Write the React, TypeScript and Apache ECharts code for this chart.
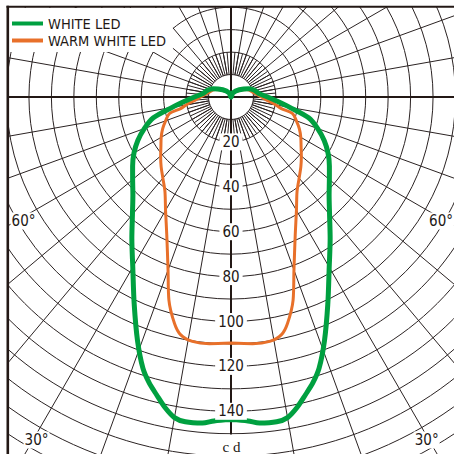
import React, { useEffect, useRef } from 'react';
import * as echarts from 'echarts';

// Luminous intensity (cd) vs angle from nadir (deg), right half; curves are symmetric.
const WHITE_ANGLES = [0, 3, 5, 8, 10, 12, 14, 16, 18, 21, 25, 30, 35, 40, 45, 50, 55, 60, 65, 70, 75, 80, 85, 90, 97, 107, 115, 131, 155, 180];
const WHITE_CD = [143.7, 144.5, 145.8, 146.1, 145, 141.4, 136.8, 132.4, 127, 116.2, 102, 87.5, 77, 68.3, 61.8, 57.2, 53.5, 49.9, 45.8, 41.1, 35.8, 26.6, 20.4, 16.3, 12.6, 10.7, 8.8, 4.9, 2, 0];

const WARM_ANGLES = [0, 5, 9, 12, 14, 17, 20, 25, 30, 35, 40, 45, 50, 55, 60, 65, 70, 75, 77, 81, 85, 90, 100, 115, 131, 155, 180];
const WARM_CD = [109.6, 110.3, 110.2, 108.2, 104, 94.6, 82, 67.7, 58.3, 51.3, 47.2, 44, 40.9, 38.1, 35.9, 33.6, 31, 28.3, 23, 19.5, 16, 13.5, 10.5, 7.8, 4.2, 1.8, 0];

const SERIES_NAMES = ['WHITE LED', 'WARM WHITE LED'];
const RADIUS_TICK_LABELS = [20, 40, 60, 80, 100, 120, 140];
const ANGLE_LABELS = ['60°', '60°', '30°', '30°'];
const UNIT_LABEL = 'c d';

const PX_PER_CD = 2.245;
const CENTER: [number, number] = [231, 97];
const R_MAX = 190;
const INK = '#231815';
const GRID = '#2b2323';
const NARROW = "'Liberation Sans Narrow', 'DejaVu Sans Condensed', 'Arial Narrow', 'Roboto', sans-serif";

function mirror(angles: number[], values: number[]) {
  const pts: number[][] = angles.map((a, i) => [values[i], a]);
  for (let i = angles.length - 2; i >= 0; i--) {
    pts.push([values[i], 360 - angles[i]]);
  }
  return pts;
}

export default function App() {
  const ref = useRef<HTMLDivElement>(null);
  useEffect(() => {
    if (!ref.current) return;
    const chart = echarts.init(ref.current, undefined, { renderer: 'svg' });
    const outerR = R_MAX * PX_PER_CD;
    const hubR = 10 * PX_PER_CD;
    const fineR = 20 * PX_PER_CD;
    const hiddenAxis = {
      axisLine: { show: false },
      axisTick: { show: false },
      axisLabel: { show: false },
      splitLine: { show: false },
    };
    const angleBase = { type: 'value', min: 0, max: 360, startAngle: 270, clockwise: false };
    const gridLine = { show: true, lineStyle: { color: GRID, width: 1 } };

    const option: any = {
      animation: false,
      backgroundColor: '#fff',
      legend: {
        data: SERIES_NAMES,
        orient: 'vertical',
        left: 9,
        top: 8,
        backgroundColor: '#fff',
        padding: [8, 7, 4, 3],
        itemGap: 2,
        itemWidth: 31,
        itemHeight: 4,
        icon: 'rect',
        selectedMode: false,
        textStyle: { fontFamily: NARROW, fontSize: 14.5, color: INK },
      },
      polar: [
        { center: CENTER, radius: [0, outerR] },
        { center: CENTER, radius: [hubR, outerR] },
        { center: CENTER, radius: [hubR, fineR] },
        { center: CENTER, radius: [fineR, outerR] },
      ],
      angleAxis: [
        { ...angleBase, polarIndex: 0, ...hiddenAxis },
        { ...angleBase, polarIndex: 1, interval: 10, ...hiddenAxis, splitLine: gridLine },
        { ...angleBase, polarIndex: 2, interval: 5, ...hiddenAxis, splitLine: gridLine },
        { ...angleBase, polarIndex: 3, ...hiddenAxis },
      ],
      radiusAxis: [
        { polarIndex: 0, type: 'value', min: 0, max: R_MAX, interval: 10, ...hiddenAxis, splitLine: gridLine },
        { polarIndex: 1, type: 'value', min: 0, max: 1, ...hiddenAxis },
        { polarIndex: 2, type: 'value', min: 0, max: 1, ...hiddenAxis },
        {
          polarIndex: 3, type: 'value', min: 20, max: R_MAX, interval: 20, z: 5,
          axisLine: { show: false }, axisTick: { show: false }, splitLine: { show: false },
          axisLabel: {
            show: true, margin: 0, align: 'center', verticalAlign: 'middle',
            backgroundColor: '#fff', padding: [1, 3],
            color: INK, fontFamily: NARROW, fontSize: 15,
            formatter: (v: number) => (RADIUS_TICK_LABELS.includes(v) ? String(v) : ''),
          },
        },
      ],
      series: [
        {
          name: SERIES_NAMES[0], type: 'line', coordinateSystem: 'polar', polarIndex: 0,
          data: mirror(WHITE_ANGLES, WHITE_CD), showSymbol: false, symbol: 'none', smooth: 0.3,
          lineStyle: { color: '#00a040', width: 5 }, itemStyle: { color: '#00a040' }, z: 3,
        },
        {
          name: SERIES_NAMES[1], type: 'line', coordinateSystem: 'polar', polarIndex: 0,
          data: mirror(WARM_ANGLES, WARM_CD), showSymbol: false, symbol: 'none', smooth: 0.3,
          lineStyle: { color: '#e8702a', width: 3 }, itemStyle: { color: '#e8702a' }, z: 2,
        },
      ],
      graphic: [
        { type: 'line', z: 1, shape: { x1: 0, y1: CENTER[1], x2: 454, y2: CENTER[1] }, style: { stroke: INK, lineWidth: 2 } },
        { type: 'line', z: 1, shape: { x1: CENTER[0], y1: 0, x2: CENTER[0], y2: 454 }, style: { stroke: INK, lineWidth: 2 } },
        ...[[23.5, 221], [441, 221], [36.5, 440], [426.7, 440]].map((p, i) => ({
          type: 'text', z: 6, x: p[0], y: p[1],
          style: {
            text: ANGLE_LABELS[i], fontFamily: NARROW, fontSize: 15, fill: INK,
            align: 'center', verticalAlign: 'middle', backgroundColor: '#fff', padding: [1, 1],
          },
        })),
        {
          type: 'text', z: 6, x: 231.5, y: 447,
          style: {
            text: UNIT_LABEL, fontFamily: "'Liberation Serif', 'DejaVu Serif', serif", fontSize: 15, fill: INK,
            align: 'center', verticalAlign: 'middle', backgroundColor: '#fff', padding: [5, 4],
          },
        },
        { type: 'rect', z: 10, shape: { x: 0, y: 0, width: 7, height: 454 }, style: { fill: '#fff' } },
        { type: 'rect', z: 10, shape: { x: 0, y: 0, width: 454, height: 6 }, style: { fill: '#fff' } },
        { type: 'line', z: 11, shape: { x1: 7.8, y1: 5.8, x2: 7.8, y2: 454 }, style: { stroke: INK, lineWidth: 2.6 } },
        { type: 'line', z: 11, shape: { x1: 6.5, y1: 6.8, x2: 454, y2: 6.8 }, style: { stroke: INK, lineWidth: 2 } },
      ],
    };
    chart.setOption(option);
    return () => chart.dispose();
  }, []);
  return <div ref={ref} style={{ position: 'fixed', left: 0, top: 0, width: 454, height: 454 }} />;
}
